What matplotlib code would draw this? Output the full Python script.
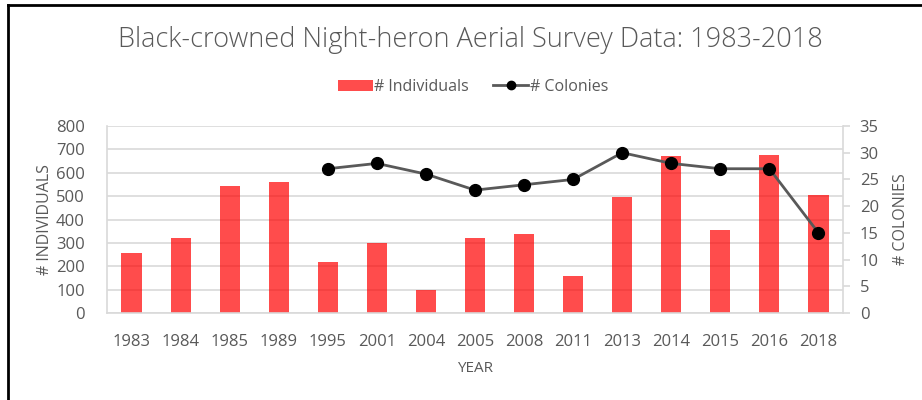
import matplotlib
matplotlib.use("Agg")
import matplotlib.pyplot as plt
from matplotlib.lines import Line2D
from matplotlib.patches import Patch
import numpy as np

years = ["1983", "1984", "1985", "1989", "1995", "2001", "2004", "2005",
         "2008", "2011", "2013", "2014", "2015", "2016", "2018"]
individuals = [258, 320, 545, 560, 220, 300, 100, 320, 340, 160, 495, 670, 355, 675, 505]
colonies = [None, None, None, None, 27, 28, 26, 23, 24, 25, 30, 28, 27, 27, 15]

plt.rcParams['font.family'] = ['Open Sans', 'DejaVu Sans']
TXT = '#595959'
GRID = '#D9D9D9'

fig = plt.figure(figsize=(9.22, 4.0), dpi=100)
ax = fig.add_axes([107/922, 1-313/400, (843-107)/922, (313-126)/400])
x = np.arange(len(years))
ax.bar(x, individuals, width=0.41, color='#FF0000', alpha=0.7, zorder=2)
ax.set_xlim(-0.5, len(years)-0.5)
ax.set_ylim(0, 800)
ax.set_yticks(range(0, 801, 100))
ax.set_xticks(x)
ax.set_xticklabels(years)
ax.grid(axis='y', color=GRID, lw=1.2, zorder=0)
ax.set_axisbelow(True)
for s in ['top', 'right']:
    ax.spines[s].set_visible(False)
for s in ['left', 'bottom']:
    ax.spines[s].set_color(GRID)
    ax.spines[s].set_linewidth(1.2)
ax.tick_params(axis='both', length=0, colors=TXT, labelsize=12)
ax.tick_params(axis='x', pad=15)
ax.tick_params(axis='y', pad=16)
ax.set_xlabel('YEAR', color=TXT, fontsize=11, labelpad=8)
ax.set_ylabel('# INDIVIDUALS', color=TXT, fontsize=11.5, labelpad=2)

ax2 = ax.twinx()
cx = [i for i, v in enumerate(colonies) if v is not None]
cy = [v for v in colonies if v is not None]
ax2.plot(cx, cy, color='#595959', lw=2.0, marker='o', markersize=8.5,
         markerfacecolor='black', markeredgecolor='black', zorder=3)
ax2.set_ylim(0, 35)
ax2.set_yticks(range(0, 36, 5))
for s in ['top', 'left', 'bottom']:
    ax2.spines[s].set_visible(False)
ax2.spines['right'].set_color(GRID)
ax2.spines['right'].set_linewidth(1.2)
ax2.tick_params(axis='y', length=5, color=GRID, width=1.2, colors=TXT, labelsize=12, pad=7)
ax2.tick_params(axis='y', color=GRID)
ax2.set_ylabel('# COLONIES', color=TXT, fontsize=11.5, labelpad=10)

fig.text(470/922, 1-40/400, 'Black-crowned Night-heron Aerial Survey Data: 1983-2018',
         ha='center', va='center', fontsize=19.5, color=TXT, fontweight='light')

handles = [Patch(facecolor='#FF0000', alpha=0.7),
           Line2D([0], [0], color='#595959', lw=2.0, marker='o', markersize=6,
                  markerfacecolor='black', markeredgecolor='black')]
fig.legend(handles, ['# Individuals', '# Colonies'], loc='center',
           bbox_to_anchor=(473/922, 1-87/400), ncol=2, frameon=False,
           fontsize=11.5, labelcolor=TXT, handlelength=2.2, handletextpad=0.1,
           columnspacing=1.5)

# document frame
fig.add_artist(Line2D([8/922, 8/922], [0, 1-5/400], transform=fig.transFigure, color='black', lw=2))
fig.add_artist(Line2D([8/922, 1], [1-5/400, 1-5/400], transform=fig.transFigure, color='black', lw=2))

fig.savefig('out.png', dpi=100)
